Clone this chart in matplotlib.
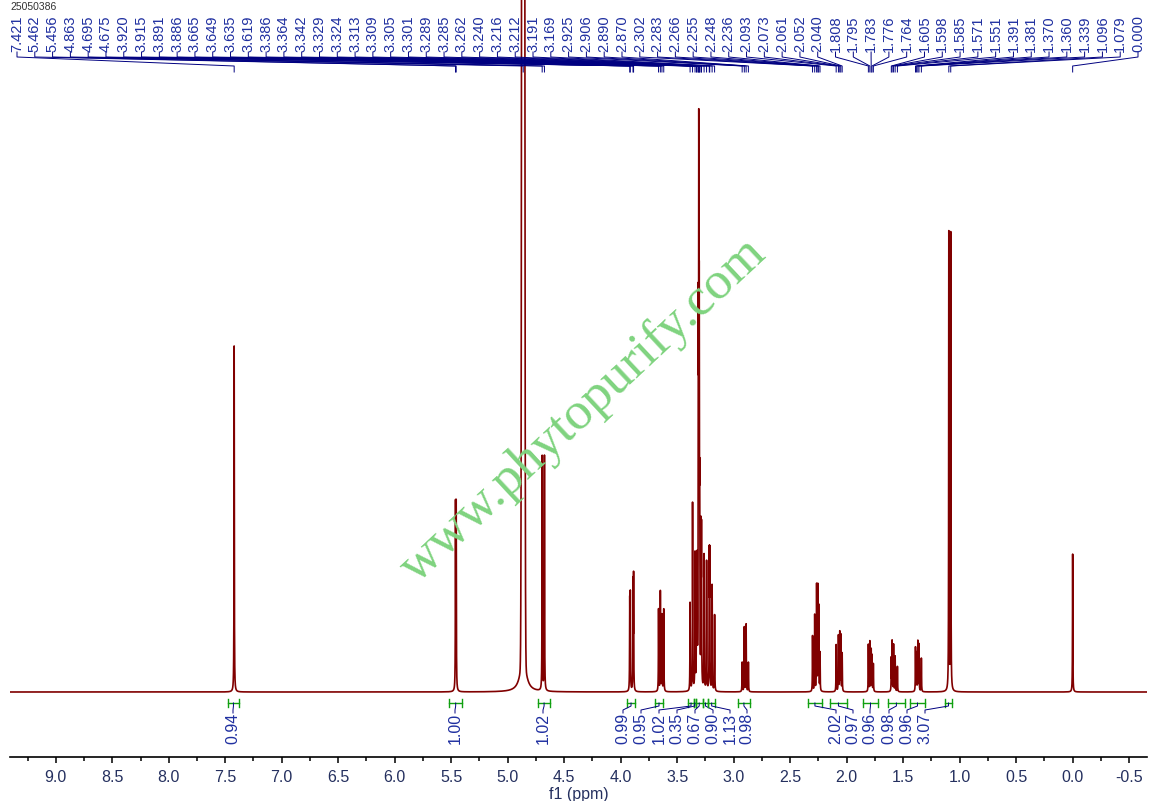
import numpy as np
import matplotlib
matplotlib.use("Agg")
import matplotlib.pyplot as plt
from matplotlib.ticker import MultipleLocator

plt.rcParams["font.family"] = ["Liberation Sans", "DejaVu Sans"]
plt.rcParams["axes.unicode_minus"] = False

# ---- data ----
sample_id = "25050386"

peak_labels = [7.421, 5.462, 5.456, 4.863, 4.695, 4.675, 3.920, 3.915, 3.891, 3.886,
               3.665, 3.649, 3.635, 3.619, 3.386, 3.364, 3.342, 3.329, 3.324, 3.313,
               3.309, 3.305, 3.301, 3.289, 3.285, 3.262, 3.240, 3.216, 3.212, 3.191,
               3.169, 2.925, 2.906, 2.890, 2.870, 2.302, 2.283, 2.266, 2.255, 2.248,
               2.236, 2.093, 2.073, 2.061, 2.052, 2.040, 1.808, 1.795, 1.783, 1.776,
               1.764, 1.605, 1.598, 1.585, 1.571, 1.551, 1.391, 1.381, 1.370, 1.360,
               1.339, 1.096, 1.079, 0.000]

# sharp lines (ppm) and their relative heights
line_ppm = [7.421, 5.462, 5.456, 4.695, 4.675,
            3.920, 3.915, 3.891, 3.886,
            3.665, 3.649, 3.635, 3.619,
            3.386, 3.364, 3.342, 3.329, 3.324, 3.313, 3.309, 3.305, 3.301,
            3.289, 3.285, 3.262, 3.240, 3.216, 3.212, 3.191, 3.169,
            2.925, 2.906, 2.890, 2.870,
            2.302, 2.283, 2.266, 2.255, 2.248, 2.236,
            2.093, 2.073, 2.061, 2.052, 2.040,
            1.808, 1.795, 1.783, 1.776, 1.764,
            1.605, 1.598, 1.585, 1.571, 1.551,
            1.391, 1.381, 1.370, 1.360, 1.339,
            1.096, 1.079, 0.000]
line_height = [0.59, 0.31, 0.31, 0.40, 0.40,
               0.15, 0.16, 0.18, 0.19,
               0.14, 0.17, 0.13, 0.14,
               0.15, 0.32, 0.23, 0.18, 0.20, 0.56, 0.84, 0.57, 0.28,
               0.25, 0.25, 0.23, 0.22, 0.22, 0.22, 0.18, 0.13,
               0.05, 0.11, 0.115, 0.05,
               0.095, 0.13, 0.18, 0.175, 0.14, 0.065,
               0.08, 0.095, 0.10, 0.095, 0.065,
               0.08, 0.085, 0.07, 0.06, 0.047,
               0.056, 0.085, 0.08, 0.06, 0.043,
               0.075, 0.065, 0.085, 0.08, 0.057,
               0.78, 0.78, 0.235]

# HDO signal: narrow core plus a small broad foot
solvent_ppm = 4.863
solvent_height = 11.0
solvent_sigma = 0.007
solvent_foot = 0.06
solvent_foot_width = 0.03

integral_from = [7.479, 5.518, 4.731, 3.944, 3.696, 3.400, 3.355, 3.335, 3.275, 3.225,
                 2.963, 2.343, 2.148, 1.856, 1.635, 1.440, 1.130]
integral_to = [7.376, 5.403, 4.625, 3.873, 3.626, 3.355, 3.335, 3.275, 3.225, 3.165,
               2.856, 2.219, 1.998, 1.723, 1.485, 1.307, 1.068]
integral_values = ["0.94", "1.00", "1.02", "0.99", "0.95", "1.02", "0.35", "0.67", "0.90",
                   "1.13", "0.98", "2.02", "0.97", "0.96", "0.98", "0.96", "3.07"]
# where the integral numbers sit (pixel column)
integral_label_px = [233, 455, 543, 623, 641, 659, 677, 695, 713, 730, 747,
                     836, 853, 870, 889, 907, 925]

# ---- layout helpers ----
W, H = 1153, 801
AX_L, AX_R, AX_B = 10, 1147, 757
XL, XR = 9.405, -0.658
BASE_PX, PX_PER_UNIT = 692, 587.0


def xdat(px):
    return XL + (px - AX_L) / (AX_R - AX_L) * (XR - XL)


def ydat(py):
    return (BASE_PX - py) / PX_PER_UNIT


ppm = np.linspace(XL, XR, 60000)
gamma = 0.0015
spec = np.zeros_like(ppm)
for p, h in zip(line_ppm, line_height):
    spec += h * gamma**2 / ((ppm - p) ** 2 + gamma**2)
d = ppm - solvent_ppm
spec += solvent_height * np.exp(-d**2 / (2 * solvent_sigma**2))
spec += solvent_foot * solvent_foot_width**2 / (d**2 + solvent_foot_width**2)

fig = plt.figure(figsize=(W / 100, H / 100), dpi=100)
ax = fig.add_axes([AX_L / W, (H - AX_B) / H, (AX_R - AX_L) / W, AX_B / H])
ax.plot(ppm, spec, color="#800000", lw=1.2)
ax.set_xlim(XL, XR)
ax.set_ylim(ydat(AX_B), ydat(0))

for s in ["top", "left", "right"]:
    ax.spines[s].set_visible(False)
ax.spines["bottom"].set_linewidth(1.2)
ax.set_yticks([])
ax.xaxis.set_major_locator(MultipleLocator(0.5))
ax.xaxis.set_minor_locator(MultipleLocator(0.25))
ax.xaxis.set_major_formatter(lambda v, pos: f"{v:.1f}")
ax.tick_params(axis="x", which="major", length=4.5, width=1.1, pad=5,
               labelsize=11.5, labelcolor="#25305f")
ax.tick_params(axis="x", which="minor", length=3, width=1.1)
ax.set_xlabel("f1 (ppm)", fontsize=11.5, color="#25305f", labelpad=1)

# peak picking labels along the top
navy = "#000080"
label_px = np.linspace(17, 1138, len(peak_labels))
for lpx, p in zip(label_px, peak_labels):
    lx = xdat(lpx)
    ax.text(lx, ydat(52), f"{p:.3f}", rotation=90, ha="center", va="bottom",
            fontsize=10.5, color="#1f2fa0", clip_on=False)
    ax.plot([lx, lx, p, p], [ydat(52), ydat(57), ydat(66), ydat(72)],
            color=navy, lw=0.7, clip_on=False)

# integrals
green = "#10a010"
for a, b, val, lpx in zip(integral_from, integral_to, integral_values, integral_label_px):
    yb = ydat(703)
    ax.plot([a, b], [yb, yb], color=green, lw=1.0)
    ax.plot([a, a], [ydat(699), ydat(707)], color=green, lw=1.0)
    ax.plot([b, b], [ydat(699), ydat(707)], color=green, lw=1.0)
    c = (a + b) / 2
    lx = xdat(lpx)
    ax.plot([c, c, lx, lx], [yb, ydat(706), ydat(710), ydat(713)], color=navy, lw=0.7)
    ax.text(lx, ydat(713), val, rotation=90, ha="center", va="top",
            fontsize=11.5, color="#1f2fa0")

fig.text(10 / W, 1 - 2 / H, sample_id, fontsize=7.5, color="#333333", va="top")

ax.text(xdat(583), ydat(410), "www.phytopurify.com", rotation=43, rotation_mode="anchor",
        ha="center", va="center", fontsize=38.5, family="Liberation Serif",
        color="#7fd37f", zorder=5)

fig.savefig("out.png", dpi=100)
